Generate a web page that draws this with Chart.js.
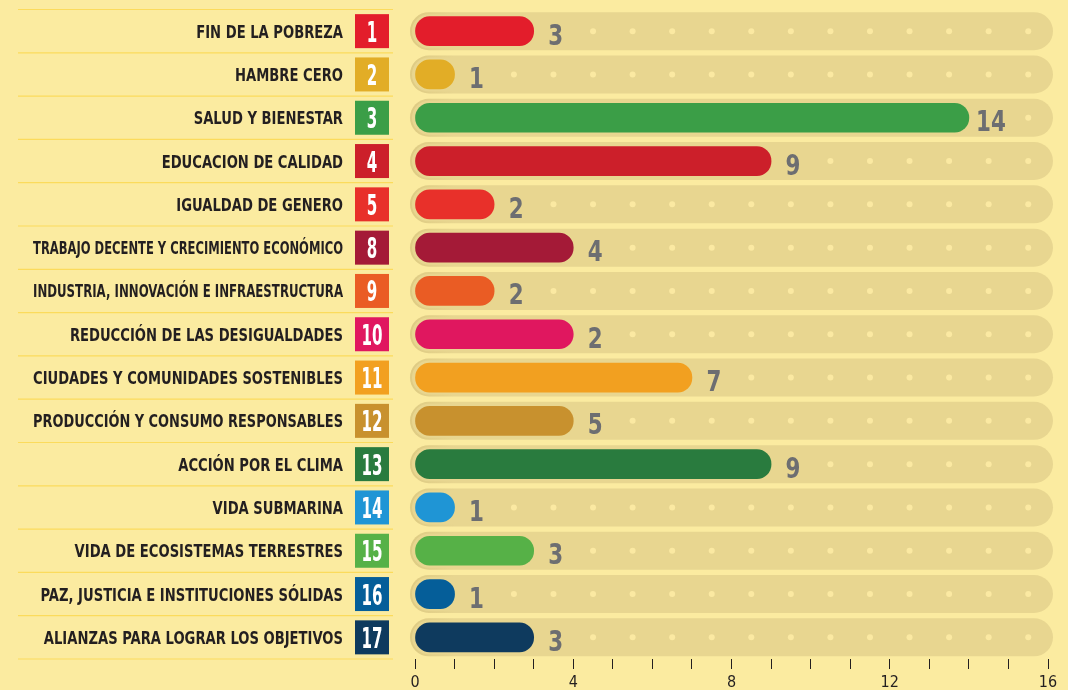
<!DOCTYPE html>
<html>
<head>
<meta charset="utf-8">
<script src="https://cdn.jsdelivr.net/npm/chart.js@4.4.1/dist/chart.umd.min.js"></script>
<style>
  html, body { margin: 0; padding: 0; background: #fbeba0; }
  canvas { display: block; }
</style>
</head>
<body>
<canvas id="c" width="1068" height="690" style="width:1068px;height:690px"></canvas>
<script>
const categories = [
  "FIN DE LA POBREZA",
  "HAMBRE CERO",
  "SALUD Y BIENESTAR",
  "EDUCACION DE CALIDAD",
  "IGUALDAD DE GENERO",
  "TRABAJO DECENTE Y CRECIMIENTO ECONÓMICO",
  "INDUSTRIA, INNOVACIÓN E INFRAESTRUCTURA",
  "REDUCCIÓN DE LAS DESIGUALDADES",
  "CIUDADES Y COMUNIDADES SOSTENIBLES",
  "PRODUCCIÓN Y CONSUMO RESPONSABLES",
  "ACCIÓN POR EL CLIMA",
  "VIDA SUBMARINA",
  "VIDA DE ECOSISTEMAS TERRESTRES",
  "PAZ, JUSTICIA E INSTITUCIONES SÓLIDAS",
  "ALIANZAS PARA LOGRAR LOS OBJETIVOS"
];
const goalNumbers = [1, 2, 3, 4, 5, 8, 9, 10, 11, 12, 13, 14, 15, 16, 17];
// bar lengths as drawn in the picture
const barValues   = [3, 1, 14, 9, 2, 4, 2, 4, 7, 4, 9, 1, 3, 1, 3];
// numbers printed next to the bars
const labelValues = [3, 1, 14, 9, 2, 4, 2, 2, 7, 5, 9, 1, 3, 1, 3];
const goalColors = [
  "#e31d2b", "#e2ad26", "#3b9e47", "#cc1f2a", "#e8302a",
  "#a41a37", "#ea5c24", "#e0175f", "#f2a020", "#c8912e",
  "#297b3e", "#1f95d5", "#56b147", "#055e99", "#0e3a5e"
];
const xMin = 0, xMax = 16;

const BG = "#fbeba0";
const TRACK = "#e8d690";
const DOT = "#fbe9a2";
const TEXT = "#231f20";
const VALUE = "#6d6e71";
const FONT = '"Liberation Sans Narrow", "DejaVu Sans Condensed", "Roboto Condensed", sans-serif';

function roundRect(ctx, x, y, w, h, r) {
  ctx.beginPath();
  ctx.moveTo(x + r, y);
  ctx.lineTo(x + w - r, y);
  ctx.arc(x + w - r, y + r, r, -Math.PI / 2, Math.PI / 2);
  ctx.lineTo(x + r, y + h);
  ctx.arc(x + r, y + r, r, Math.PI / 2, Math.PI * 1.5);
  ctx.closePath();
}

function condensedText(ctx, text, x, y, align, scaleX, maxWidth) {
  ctx.save();
  ctx.translate(x, y);
  ctx.scale(scaleX, 1);
  ctx.textAlign = align;
  if (maxWidth) ctx.fillText(text, 0, 0, maxWidth / scaleX);
  else ctx.fillText(text, 0, 0);
  ctx.restore();
}

const decor = {
  id: 'decor',
  beforeDraw(chart) {
    const ctx = chart.ctx;
    ctx.save();
    ctx.fillStyle = BG;
    ctx.fillRect(0, 0, chart.width, chart.height);
    ctx.restore();
  },
  beforeDatasetsDraw(chart) {
    const ctx = chart.ctx;
    const xs = chart.scales.x, ys = chart.scales.y;
    const x0 = xs.getPixelForValue(xMin) - 5;
    const x1 = xs.getPixelForValue(xMax) + 5;
    const step = ys.getPixelForValue(1) - ys.getPixelForValue(0);
    ctx.save();
    // separator lines on the left
    ctx.strokeStyle = "#fbdb5c";
    ctx.lineWidth = 1.2;
    for (let i = 0; i <= categories.length; i++) {
      const y = ys.getPixelForValue(i) - step / 2;
      ctx.beginPath();
      ctx.moveTo(18, y);
      ctx.lineTo(393, y);
      ctx.stroke();
    }
    categories.forEach((cat, i) => {
      const cy = ys.getPixelForValue(i);
      // track
      const h = 38;
      roundRect(ctx, x0, cy - h / 2, x1 - x0, h, h / 2);
      ctx.fillStyle = TRACK;
      ctx.fill();
      ctx.save();
      ctx.clip();
      const g = ctx.createLinearGradient(x0, 0, x0 + 45, 0);
      g.addColorStop(0, "rgba(210,190,115,0.45)");
      g.addColorStop(1, "rgba(210,190,115,0)");
      ctx.strokeStyle = g;
      ctx.lineWidth = 4;
      ctx.stroke();
      ctx.restore();
      // dots
      ctx.fillStyle = DOT;
      for (let k = xMin; k < xMax; k++) {
        const v = k + 0.5;
        if (v <= barValues[i] + 1) continue;
        ctx.beginPath();
        ctx.arc(xs.getPixelForValue(v), cy, 3, 0, Math.PI * 2);
        ctx.fill();
      }
      // category text
      ctx.fillStyle = TEXT;
      ctx.font = 'bold 17px ' + FONT;
      ctx.textBaseline = 'alphabetic';
      condensedText(ctx, cat, 343, cy + 6.5, 'right', 0.86, 310);
      // number box
      ctx.fillStyle = goalColors[i];
      ctx.fillRect(355, cy - 17, 34, 34);
      ctx.fillStyle = '#ffffff';
      ctx.font = 'bold 28px ' + FONT;
      condensedText(ctx, String(goalNumbers[i]), 372, cy + 10.5, 'center', 0.6);
    });
    ctx.restore();
  },
  afterDatasetsDraw(chart) {
    const ctx = chart.ctx;
    const xs = chart.scales.x, ys = chart.scales.y;
    ctx.save();
    ctx.fillStyle = VALUE;
    ctx.font = 'bold 29px ' + FONT;
    ctx.textBaseline = 'alphabetic';
    labelValues.forEach((v, i) => {
      const cy = ys.getPixelForValue(i);
      const x = xs.getPixelForValue(barValues[i]) + 22;
      condensedText(ctx, String(v), x, cy + 13.5, 'center', 0.82);
    });
    ctx.restore();
  }
};

new Chart(document.getElementById('c'), {
  type: 'bar',
  data: {
    labels: categories,
    datasets: [{
      data: barValues,
      backgroundColor: goalColors,
      barThickness: 29,
      borderRadius: 15,
      borderSkipped: false
    }]
  },
  options: {
    indexAxis: 'y',
    responsive: false,
    animation: false,
    layout: { padding: { left: 415, right: 20, top: 9.5, bottom: 0 } },
    plugins: { legend: { display: false }, tooltip: { enabled: false } },
    scales: {
      x: {
        min: xMin, max: xMax,
        afterFit: (s) => { s.height = 31; },
        ticks: {
          stepSize: 1, autoSkip: false, maxRotation: 0,
          callback: (v) => (v % 4 === 0 ? String(v) : ''),
          color: TEXT,
          font: { family: '"DejaVu Sans Condensed", sans-serif', size: 16, lineHeight: 1 },
          padding: 6
        },
        grid: { drawOnChartArea: false, drawTicks: true, tickLength: 10, color: TEXT, lineWidth: 1 },
        border: { display: false }
      },
      y: { display: false }
    }
  },
  plugins: [decor]
});
</script>
</body>
</html>
